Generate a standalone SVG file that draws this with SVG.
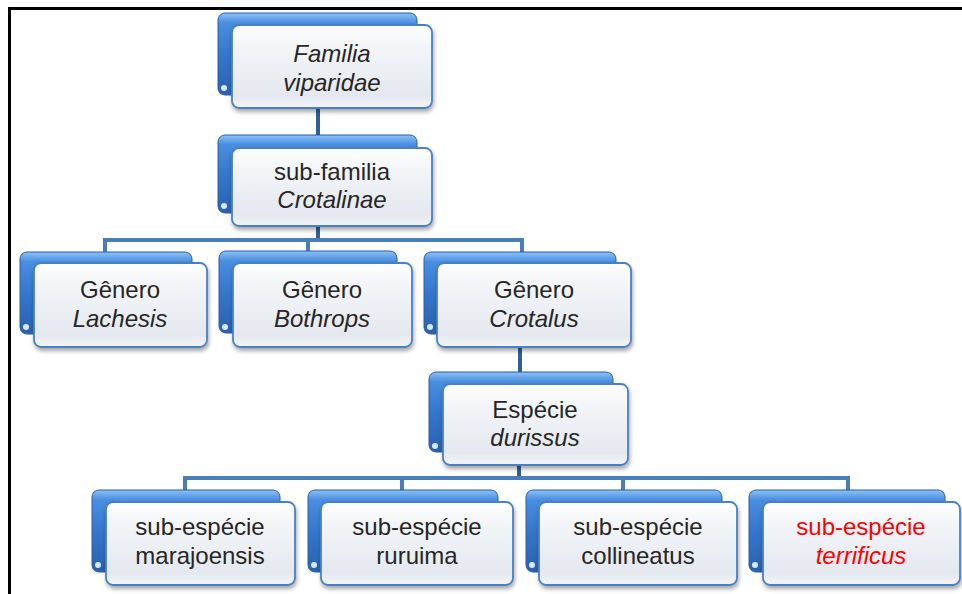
<svg xmlns="http://www.w3.org/2000/svg" width="962" height="594" viewBox="0 0 962 594">
<defs>
<linearGradient id="gBack" x1="0" y1="0" x2="0" y2="1">
<stop offset="0" stop-color="#8cc2f6"/>
<stop offset="0.12" stop-color="#4a8ee0"/>
<stop offset="0.5" stop-color="#3577cc"/>
<stop offset="1" stop-color="#2a60ad"/>
</linearGradient>
<linearGradient id="gFront" x1="0" y1="0" x2="0" y2="1">
<stop offset="0" stop-color="#ffffff"/>
<stop offset="0.25" stop-color="#f3f5f8"/>
<stop offset="0.85" stop-color="#e4e8ee"/>
<stop offset="1" stop-color="#f2f4f7"/>
</linearGradient>
<filter id="sh" x="-10%" y="-10%" width="125%" height="130%">
<feDropShadow dx="1" dy="3" stdDeviation="2" flood-color="#000" flood-opacity="0.35"/>
</filter>
</defs>
<style>
.back{fill:url(#gBack);stroke:#2b5ea6;stroke-width:1}
.front{fill:url(#gFront);stroke:#4a80c4;stroke-width:1.8;filter:url(#sh)}
.dot{fill:#d8e8fb}
.t{font-family:"Liberation Sans",Arial,sans-serif;font-size:24px;fill:#262626;text-anchor:middle}
.i{font-style:italic}
.red{fill:#ff0000}
.c{fill:none;stroke:#4a7ebb;stroke-width:4;stroke-linejoin:miter}
.cd{fill:none;stroke:#2f5f98;stroke-width:4}
.frame{fill:none;stroke:#000;stroke-width:3}
</style>
<rect width="962" height="594" fill="#fff"/>
<path class="frame" d="M9.5 594 V8.5 H962"/>
<g id="connectors">
<path class="cd" d="M318 108 V140"/>
<path class="cd" d="M318 226 V240"/>
<path class="c" d="M105 252 V240 H522 V252 M308 240 V252"/>
<path class="cd" d="M520 347 V374"/>
<path class="cd" d="M519 465 V478"/>
<path class="c" d="M185 490 V478 H848 V490 M402 478 V490 M623 478 V490"/>
</g>
<g id="n-familia">
<rect class="back" x="218" y="13" width="199" height="82" rx="7"/>
<circle class="dot" cx="224" cy="88" r="3"/>
<rect class="front" x="232" y="25" width="200" height="83" rx="7"/>
<text class="t i" x="332" y="62">Familia</text>
<text class="t i" x="332" y="91">viparidae</text>
</g>
<g id="n-subfamilia">
<rect class="back" x="218" y="135" width="199" height="78" rx="7"/>
<circle class="dot" cx="224" cy="206" r="3"/>
<rect class="front" x="232" y="148" width="200" height="78" rx="7"/>
<text class="t" x="332" y="180">sub-familia</text>
<text class="t i" x="332" y="208">Crotalinae</text>
</g>
<g id="n-lachesis">
<rect class="back" x="20" y="252" width="172" height="82" rx="7"/>
<circle class="dot" cx="26" cy="327" r="3"/>
<rect class="front" x="34" y="263" width="173" height="84" rx="7"/>
<text class="t" x="120" y="298">Gênero</text>
<text class="t i" x="120" y="327">Lachesis</text>
</g>
<g id="n-bothrops">
<rect class="back" x="219" y="251" width="178" height="82" rx="7"/>
<circle class="dot" cx="225" cy="327" r="3"/>
<rect class="front" x="233" y="263" width="179" height="84" rx="7"/>
<text class="t" x="322" y="298">Gênero</text>
<text class="t i" x="322" y="327">Bothrops</text>
</g>
<g id="n-crotalus">
<rect class="back" x="424" y="252" width="192" height="82" rx="7"/>
<circle class="dot" cx="430" cy="327" r="3"/>
<rect class="front" x="437" y="263" width="194" height="84" rx="7"/>
<text class="t" x="534" y="298">Gênero</text>
<text class="t i" x="534" y="327">Crotalus</text>
</g>
<g id="n-especie">
<rect class="back" x="429" y="372" width="184" height="80" rx="7"/>
<circle class="dot" cx="435" cy="446" r="3"/>
<rect class="front" x="443" y="384" width="185" height="81" rx="7"/>
<text class="t" x="535" y="418">Espécie</text>
<text class="t i" x="535" y="446">durissus</text>
</g>
<g id="n-marajoensis">
<rect class="back" x="92" y="490" width="188" height="82" rx="7"/>
<circle class="dot" cx="98" cy="565" r="3"/>
<rect class="front" x="106" y="502" width="189" height="83" rx="7"/>
<text class="t" x="200" y="535">sub-espécie</text>
<text class="t" x="200" y="564">marajoensis</text>
</g>
<g id="n-ruruima">
<rect class="back" x="308" y="490" width="190" height="82" rx="7"/>
<circle class="dot" cx="314" cy="565" r="3"/>
<rect class="front" x="321" y="502" width="192" height="83" rx="7"/>
<text class="t" x="417" y="535">sub-espécie</text>
<text class="t" x="417" y="564">ruruima</text>
</g>
<g id="n-collineatus">
<rect class="back" x="526" y="490" width="196" height="82" rx="7"/>
<circle class="dot" cx="532" cy="565" r="3"/>
<rect class="front" x="539" y="502" width="198" height="83" rx="7"/>
<text class="t" x="638" y="535">sub-espécie</text>
<text class="t" x="638" y="564">collineatus</text>
</g>
<g id="n-terrificus">
<rect class="back" x="749" y="490" width="196" height="82" rx="7"/>
<circle class="dot" cx="755" cy="565" r="3"/>
<rect class="front" x="763" y="502" width="197" height="83" rx="7"/>
<text class="t red" x="861" y="535">sub-espécie</text>
<text class="t i red" x="861" y="564">terrificus</text>
</g>
</svg>
